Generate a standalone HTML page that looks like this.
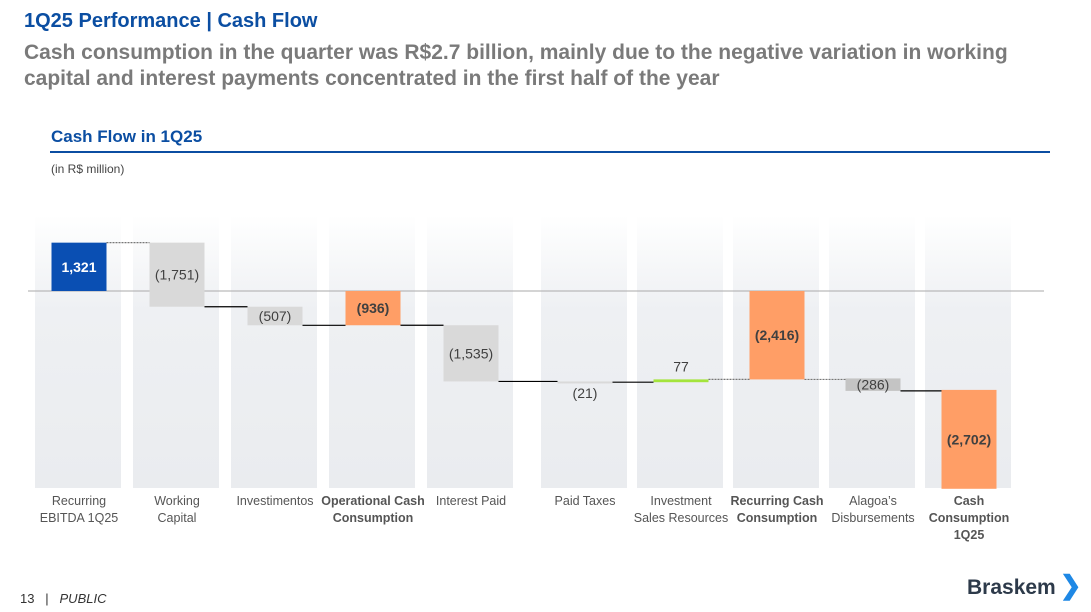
<!DOCTYPE html>
<html><head><meta charset="utf-8"><style>
body{margin:0;width:1091px;height:612px;background:#fff;font-family:"Liberation Sans",sans-serif;overflow:hidden;position:relative}
.t{position:absolute;margin:0}
</style></head><body>
<div class="t" style="left:24px;top:10px;font-size:20px;font-weight:bold;color:#0b4ea2">1Q25 Performance | Cash Flow</div>
<div class="t" style="left:24px;top:40px;font-size:21px;font-weight:bold;color:#7a7a7a;line-height:26px;width:1030px">Cash consumption in the quarter was R$2.7 billion, mainly due to the negative variation in working capital and interest payments concentrated in the first half of the year</div>
<div class="t" style="left:51px;top:127px;font-size:17px;font-weight:bold;color:#0b4ea2">Cash Flow in 1Q25</div>
<div class="t" style="left:50px;top:151px;width:1000px;height:2px;background:#0b4ea2"></div>
<div class="t" style="left:51px;top:162px;font-size:12px;color:#444">(in R$ million)</div>
<svg id="chart" width="1091" height="612" style="position:absolute;left:0;top:0">
<defs><linearGradient id="bg" x1="0" y1="0" x2="0" y2="1"><stop offset="0" stop-color="#fff"/><stop offset="0.35" stop-color="#eef0f3"/><stop offset="1" stop-color="#eaecef"/></linearGradient></defs>
</svg>
<div class="t" style="left:20px;top:591px;font-size:13px;color:#333">13 &nbsp;&nbsp;| &nbsp;&nbsp;<i>PUBLIC</i></div>
<div class="t" style="left:967px;top:570px;font-size:21px;font-weight:bold;color:#2d3a4a">Braskem<span style="color:#1e88e5;font-size:26px;margin-left:4px">❯</span></div>
<script>
const categories=[["Recurring","EBITDA 1Q25"],["Working","Capital"],["Investimentos"],["Operational Cash","Consumption"],["Interest Paid"],["Paid Taxes"],["Investment","Sales Resources"],["Recurring Cash","Consumption"],["Alagoa’s","Disbursements"],["Cash","Consumption","1Q25"]];
const values=[1321,-1751,-507,-936,-1535,-21,77,-2416,-286,-2702];
const isTotal=[false,false,false,true,false,false,false,true,false,true];
const valueLabels=["1,321","(1,751)","(507)","(936)","(1,535)","(21)","77","(2,416)","(286)","(2,702)"];
const NS="http://www.w3.org/2000/svg",svg=document.getElementById('chart');
const zeroY=291,scale=0.0366,bw=55;
const y=v=>zeroY-v*scale, xc=i=>i<5?79+i*98:585+(i-5)*96;
function mk(t,a){const e=document.createElementNS(NS,t);for(const k in a)e.setAttribute(k,a[k]);svg.appendChild(e);return e;}
categories.forEach((c,i)=>{const r=mk('rect',{x:xc(i)-44,y:215,width:86,height:273,fill:'url(#bg)'});

});
const zl=mk('line',{x1:28,x2:1044,y1:zeroY,y2:zeroY,stroke:'#aaa','stroke-width':1});


let run=0,prevEnd=null,prevX=null;
values.forEach((v,i)=>{
 let a,b;const last=i==values.length-1;
 if(last){a=run;b=run+v;}else if(isTotal[i]){a=0;b=v;}else{a=run;b=run+v;}
 const endLevel=last?v:(isTotal[i]?v:b);
 run=endLevel;
 let top=Math.min(y(a),y(b)),h=Math.abs(y(a)-y(b));
 if(h<2){h=2;}
 if(i==8){top=top-1;h=Math.max(h+2,12);}
 let col='#d9d9d9';if(i==0)col='#0a4fb3';else if(isTotal[i])col='#ff9e66';else if(v>0)col='#a4e43c';else if(i==8)col='#c4c4c4';
 if(prevEnd!==null){const dotted=(i==1||i==7||i==8);
  const ln=mk('line',{x1:prevX,x2:xc(i)-bw/2,y1:prevEnd,y2:prevEnd,stroke:dotted?'#777':'#000','stroke-width':1.2,'stroke-dasharray':dotted?'2,1':'none'});
  
  }
 const r=mk('rect',{x:xc(i)-bw/2,y:top,width:bw,height:h,fill:col});
 
 
 prevEnd=last?y(a):(i==8?top+h:y(endLevel));prevX=xc(i)+bw/2;
 let ly;if(i==5)ly=y(b)+16;else if(i==6)ly=y(b)-8;else ly=top+h/2+5;
 const bold=(i==0||isTotal[i]);
 const t=mk('text',{x:xc(i),y:ly,'text-anchor':'middle','font-size':14,'font-weight':bold?'bold':'normal',fill:i==0?'#fff':'#404040','font-family':'Liberation Sans, sans-serif'});
 t.textContent=valueLabels[i];
 
 
 categories[i].forEach((s,k)=>{const l=mk('text',{x:xc(i),y:505+k*17,'text-anchor':'middle','font-size':12.5,'font-weight':isTotal[i]?'bold':'normal',fill:'#555','font-family':'Liberation Sans, sans-serif'});
  l.textContent=s;
  
  });
});
</script>
</body></html>
